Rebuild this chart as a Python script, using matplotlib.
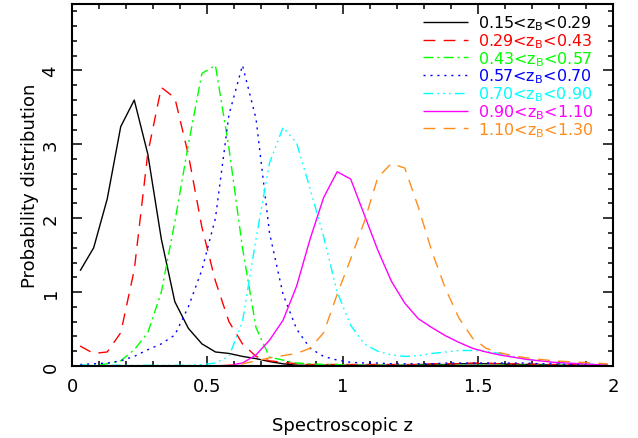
import matplotlib
matplotlib.use('Agg')
import matplotlib.pyplot as plt
from matplotlib.ticker import MultipleLocator

plt.rcParams['font.family'] = ['DejaVu Sans']
plt.rcParams['mathtext.default'] = 'regular'

# redshift grid of the histograms
z = [0.03, 0.08, 0.13, 0.18, 0.23, 0.28, 0.33, 0.38, 0.43, 0.48,
     0.53, 0.58, 0.63, 0.68, 0.73, 0.78, 0.83, 0.88, 0.93, 0.98,
     1.03, 1.08, 1.13, 1.18, 1.23, 1.28, 1.33, 1.38, 1.43, 1.48,
     1.53, 1.58, 1.63, 1.68, 1.73, 1.78, 1.83, 1.88, 1.93, 1.98]

p_015_029 = [1.29, 1.60, 2.26, 3.24, 3.60, 2.87, 1.72, 0.87, 0.51, 0.30,
             0.19, 0.17, 0.13, 0.10, 0.06, 0.03, 0.01, 0.01, 0.01, 0.01,
             0.01, 0.01, 0.01, 0.01, 0.01, 0.02, 0.02, 0.02, 0.03, 0.03,
             0.03, 0.03, 0.02, 0.02, 0.02, 0.01, 0.01, 0.01, 0.01, 0.01]
p_029_043 = [0.27, 0.17, 0.19, 0.45, 1.30, 2.88, 3.77, 3.63, 2.86, 1.88,
             1.15, 0.60, 0.30, 0.13, 0.07, 0.05, 0.03, 0.02, 0.02, 0.02,
             0.02, 0.02, 0.02, 0.02, 0.02, 0.02, 0.03, 0.03, 0.03, 0.04,
             0.04, 0.03, 0.03, 0.03, 0.02, 0.02, 0.02, 0.02, 0.01, 0.01]
p_043_057 = [0.01, 0.01, 0.03, 0.07, 0.22, 0.45, 1.00, 1.95, 3.00, 3.96,
             4.07, 2.95, 1.60, 0.52, 0.12, 0.08, 0.04, 0.03, 0.02, 0.02,
             0.01, 0.01, 0.01, 0.01, 0.01, 0.01, 0.01, 0.01, 0.01, 0.01,
             0.01, 0.01, 0.01, 0.01, 0.01, 0.01, 0.01, 0.01, 0.01, 0.01]
p_057_070 = [0.02, 0.03, 0.04, 0.07, 0.13, 0.22, 0.30, 0.42, 0.80, 1.30,
             2.00, 3.40, 4.07, 3.35, 1.80, 0.97, 0.50, 0.24, 0.13, 0.08,
             0.05, 0.04, 0.04, 0.03, 0.03, 0.03, 0.03, 0.04, 0.04, 0.04,
             0.04, 0.04, 0.04, 0.04, 0.03, 0.03, 0.02, 0.02, 0.02, 0.01]
p_070_090 = [0.01, 0.01, 0.01, 0.01, 0.01, 0.01, 0.01, 0.01, 0.01, 0.02,
             0.04, 0.13, 0.60, 1.72, 2.75, 3.23, 3.02, 2.40, 1.75, 1.00,
             0.55, 0.30, 0.20, 0.15, 0.13, 0.14, 0.17, 0.19, 0.21, 0.21,
             0.20, 0.17, 0.13, 0.09, 0.07, 0.05, 0.04, 0.03, 0.02, 0.01]
p_090_110 = [0.00, 0.00, 0.00, 0.00, 0.00, 0.00, 0.00, 0.00, 0.00, 0.00,
             0.00, 0.01, 0.04, 0.15, 0.35, 0.62, 1.08, 1.72, 2.28, 2.63,
             2.53, 2.05, 1.57, 1.15, 0.85, 0.64, 0.52, 0.41, 0.32, 0.24,
             0.19, 0.15, 0.12, 0.09, 0.07, 0.05, 0.04, 0.03, 0.02, 0.01]
p_110_130 = [0.00, 0.00, 0.00, 0.00, 0.00, 0.00, 0.00, 0.00, 0.00, 0.00,
             0.00, 0.01, 0.03, 0.07, 0.11, 0.14, 0.17, 0.24, 0.45, 0.97,
             1.45, 1.95, 2.55, 2.74, 2.68, 2.15, 1.55, 1.05, 0.65, 0.38,
             0.24, 0.18, 0.14, 0.11, 0.09, 0.07, 0.06, 0.05, 0.04, 0.03]

bins = ['0.15<z$_B$<0.29', '0.29<z$_B$<0.43', '0.43<z$_B$<0.57',
        '0.57<z$_B$<0.70', '0.70<z$_B$<0.90', '0.90<z$_B$<1.10',
        '1.10<z$_B$<1.30']
curves = [p_015_029, p_029_043, p_043_057, p_057_070, p_070_090,
          p_090_110, p_110_130]
colors = ['black', '#ff0000', '#00ff00', '#0000ff', '#00ffff', '#ff00ff',
          '#ff8c1a']
styles = [(0, ()), (0, (8.5, 6)), (0, (7, 3, 1.5, 3)), (0, (1.5, 3.5)),
          (0, (7, 3, 1.2, 3, 1.2, 3, 1.2, 3)), (0, ()), (0, (8.5, 6))]

fig = plt.figure(figsize=(6.38, 4.39), dpi=100)
ax = fig.add_axes([0.1129, 0.164, 0.8481, 0.8246])

for vals, lab, c, ls in zip(curves, bins, colors, styles):
    ax.plot(z, vals, color=c, linestyle=ls, lw=1.0, label=lab)

ax.set_xlim(0, 2)
ax.set_ylim(0, 4.9)
ax.xaxis.set_major_locator(MultipleLocator(0.5))
ax.xaxis.set_minor_locator(MultipleLocator(0.1))
ax.yaxis.set_major_locator(MultipleLocator(1))
ax.yaxis.set_minor_locator(MultipleLocator(0.2))
ax.xaxis.set_major_formatter(plt.FuncFormatter(lambda v, p: f'{v:g}'))
ax.yaxis.set_major_formatter(plt.FuncFormatter(lambda v, p: f'{v:g}'))
ax.tick_params(which='both', direction='in', top=True, right=True,
               width=1.1, labelsize=13)
ax.tick_params(which='major', length=7)
ax.tick_params(which='minor', length=3.6)
ax.tick_params(axis='x', pad=8)
ax.tick_params(axis='y', pad=9, labelrotation=90)
for lab in ax.get_yticklabels():
    lab.set_va('center')
for sp in ax.spines.values():
    sp.set_linewidth(1.5)

ax.set_xlabel('Spectroscopic z', fontsize=13, labelpad=15)
ax.set_ylabel('Probability distribution', fontsize=13, labelpad=2)

leg = ax.legend(loc='upper left', bbox_to_anchor=(0.649, 0.974),
                frameon=False, fontsize=11.5, handlelength=2.8,
                handletextpad=0.6, labelspacing=-0.06, borderpad=0,
                borderaxespad=0, labelcolor='linecolor')

fig.savefig('out.png', dpi=100)
